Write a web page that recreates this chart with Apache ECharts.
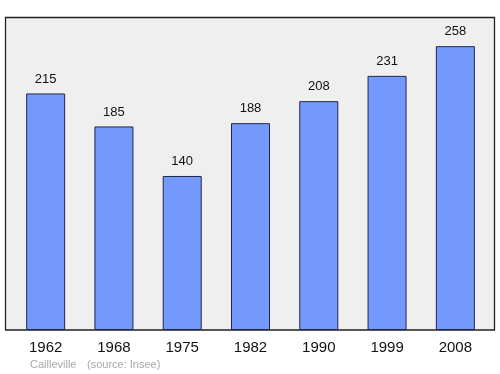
<!DOCTYPE html>
<html><head><meta charset="utf-8">
<script src="https://cdn.jsdelivr.net/npm/echarts@6/dist/echarts.min.js"></script>
<style>html,body{margin:0;padding:0;background:#fff}#c{width:500px;height:374px}</style>
</head><body><div id="c"></div>
<script>
const categories = ['1962','1968','1975','1982','1990','1999','2008'];
const population = [215,185,140,188,208,231,258];
const footerPlace = 'Cailleville';
const footerSource = '(source: Insee)';

const chart = echarts.init(document.getElementById('c'), null, {renderer:'canvas'});
chart.setOption({
  animation:false,
  backgroundColor:'#ffffff',
  graphic:[
    {type:'rect', shape:{x:5.5,y:17.5,width:489,height:312.5}, style:{fill:'#efefef',stroke:'#222',lineWidth:1.3}, z:-1},
    {type:'text', left:30, top:359, style:{text:footerPlace, fill:'#a8a8a8', font:'11px "Liberation Sans", Arial, sans-serif'}},
    {type:'text', left:87, top:359, style:{text:footerSource, fill:'#a8a8a8', font:'11px "Liberation Sans", Arial, sans-serif'}}
  ],
  grid:{left:11.5, right:10.5, top:17, bottom:44, containLabel:false},
  xAxis:{type:'category', data:categories,
    axisLine:{show:false}, axisTick:{show:false},
    axisLabel:{color:'#111', fontSize:15, fontFamily:'Liberation Sans', margin:10}},
  yAxis:{type:'value', min:0, max:284.5, show:false, splitLine:{show:false}},
  series:[{type:'bar', data:population, barWidth:39,
    itemStyle:{color:'#7399ff', borderColor:'#22264a', borderWidth:1},
    label:{show:true, position:'top', distance:8, color:'#111', fontSize:13, fontFamily:'Liberation Sans'}}]
});
</script></body></html>
